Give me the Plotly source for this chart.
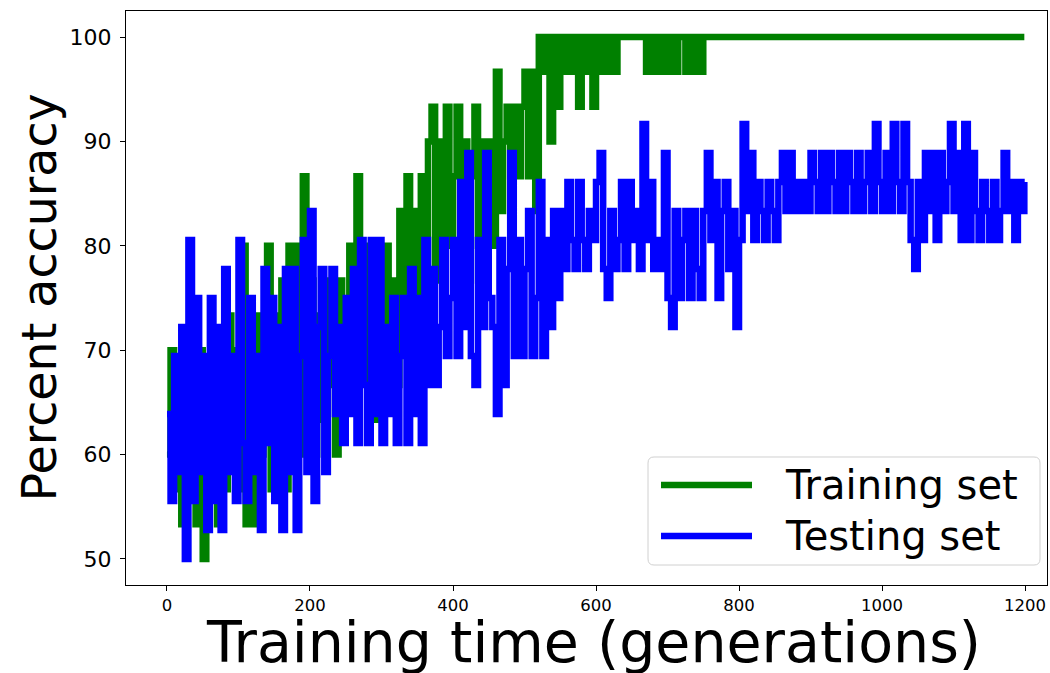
import plotly.graph_objects as go

# ---------------- data ----------------
train_gen = list(range(0, 755, 5)) + [1199]
train_acc = [
    60, 70, 56.67, 66.67, 53.33, 63.33, 56.67, 66.67, 53.33, 70,
    50, 66.67, 56.67, 70, 53.33, 63.33, 56.67, 73.33, 60, 70,
    56.67, 80, 53.33, 66.67, 53.33, 73.33, 60, 70, 80, 56.67,
    73.33, 60, 76.67, 56.67, 80, 63.33, 80, 60, 86.67, 63.33,
    76.67, 60, 73.33, 63.33, 76.67, 66.67, 70, 60, 76.67, 63.33,
    73.33, 80, 66.67, 86.67, 70, 80, 66.67, 76.67, 63.33, 73.33,
    66.67, 80, 70, 76.67, 66.67, 83.33, 70, 86.67, 73.33, 83.33,
    70, 86.67, 76.67, 90, 93.33, 76.67, 90, 80, 93.33, 80,
    86.67, 93.33, 80, 90, 76.67, 86.67, 93.33, 80, 90, 83.33,
    90, 80, 96.67, 83.33, 90, 93.33, 86.67, 93.33, 86.67, 93.33,
    96.67, 86.67, 96.67, 83.33, 100, 96.67, 100, 90, 100, 93.33,
    100, 96.67, 100, 96.67, 100, 93.33, 100, 96.67, 100, 93.33,
    100, 96.67, 100, 96.67, 100, 96.67, 100, 100, 100, 100,
    100, 100, 100, 100, 96.67, 100, 96.67, 100, 96.67, 100,
    96.67, 100, 96.67, 100, 100, 96.67, 100, 96.67, 100, 96.67,
    100,
    100,
]

test_gen = list(range(0, 1200, 5)) + [1199]
test_acc = [
    63.89, 55.56, 69.44, 58.33, 72.22, 50, 80.56, 55.56, 75, 58.33,
    69.44, 52.78, 75, 55.56, 72.22, 52.78, 77.78, 58.33, 69.44, 55.56,
    80.56, 61.11, 55.56, 75, 58.33, 69.44, 52.78, 77.78, 61.11, 75,
    55.56, 72.22, 52.78, 77.78, 58.33, 77.78, 52.78, 69.44, 80.56, 58.33,
    83.33, 55.56, 72.22, 77.78, 58.33, 69.44, 77.78, 63.89, 72.22, 61.11,
    75, 63.89, 77.78, 61.11, 80.56, 66.67, 61.11, 80.56, 63.89, 80.56,
    61.11, 72.22, 63.89, 75, 61.11, 69.44, 75, 61.11, 77.78, 63.89,
    75, 61.11, 80.56, 66.67, 77.78, 66.67, 72.22, 80.56, 69.44, 75,
    80.56, 69.44, 86.11, 72.22, 88.89, 69.44, 66.67, 80.56, 72.22, 88.89,
    75, 72.22, 63.89, 80.56, 66.67, 77.78, 88.89, 69.44, 80.56, 69.44,
    77.78, 83.33, 69.44, 75, 86.11, 69.44, 80.56, 72.22, 83.33, 75,
    83.33, 77.78, 86.11, 80.56, 77.78, 86.11, 80.56, 77.78, 83.33, 80.56,
    86.11, 88.89, 77.78, 75, 83.33, 77.78, 80.56, 86.11, 77.78, 86.11,
    80.56, 83.33, 77.78, 91.67, 80.56, 86.11, 77.78, 80.56, 77.78, 88.89,
    75, 72.22, 83.33, 75, 80.56, 83.33, 75, 83.33, 77.78, 75,
    83.33, 88.89, 80.56, 86.11, 75, 83.33, 86.11, 77.78, 83.33, 72.22,
    80.56, 91.67, 83.33, 88.89, 80.56, 86.11, 83.33, 80.56, 86.11, 83.33,
    80.56, 86.11, 88.89, 83.33, 88.89, 83.33, 86.11, 83.33, 86.11, 83.33,
    88.89, 86.11, 83.33, 88.89, 83.33, 88.89, 86.11, 83.33, 88.89, 83.33,
    88.89, 86.11, 83.33, 88.89, 83.33, 86.11, 88.89, 83.33, 91.67, 86.11,
    83.33, 88.89, 83.33, 91.67, 86.11, 83.33, 91.67, 86.11, 80.56, 77.78,
    86.11, 80.56, 88.89, 83.33, 88.89, 80.56, 88.89, 83.33, 86.11, 91.67,
    83.33, 88.89, 80.56, 91.67, 80.56, 88.89, 83.33, 80.56, 86.11, 83.33,
    80.56, 86.11, 80.56, 83.33, 88.89, 83.33, 86.11, 80.56, 86.11, 83.33,
    86.11,
]

x_ticks = [0, 200, 400, 600, 800, 1000, 1200]
y_ticks = [50, 60, 70, 80, 90, 100]
series_names = ["Training set", "Testing set"]
series_colors = ["green", "blue"]
x_title = "Training time (generations)"
y_title = "Percent accuracy"

FONT = "DejaVu Sans"
LW = 6.5

fig = go.Figure()
for gx, gy, name, col in [(train_gen, train_acc, series_names[0], series_colors[0]),
                          (test_gen, test_acc, series_names[1], series_colors[1])]:
    fig.add_trace(go.Scatter(x=gx, y=gy, mode="lines", name=name,
                             line=dict(color=col, width=LW, shape="hv", simplify=False),
                             showlegend=False, hoverinfo="skip"))

axis_common = dict(showgrid=False, zeroline=False, showline=True, mirror=True,
                   linecolor="black", linewidth=1, ticks="outside", ticklen=5,
                   tickcolor="black", tickwidth=1)

fig.update_layout(
    width=1050, height=673,
    margin=dict(l=126, r=3, t=11, b=88),
    paper_bgcolor="white", plot_bgcolor="white",
    font=dict(family=FONT, color="black"),
    xaxis=dict(range=[-57.3, 1230.7], tickvals=x_ticks,
               tickfont=dict(size=16.5, family=FONT, color="black"), **axis_common),
    yaxis=dict(range=[47.5, 102.5], tickvals=y_ticks, ticklabelstandoff=4,
               tickfont=dict(size=22, family=FONT, color="black"), **axis_common),
)

# axis titles
fig.add_annotation(text=x_title, xref="paper", yref="paper", x=0.508, y=-0.099,
                   xanchor="center", yanchor="middle", showarrow=False,
                   font=dict(size=57, family=FONT, color="black"))
fig.add_annotation(text=y_title, xref="paper", yref="paper", x=-0.0934, y=0.5009,
                   xanchor="center", yanchor="middle", showarrow=False, textangle=-90,
                   font=dict(size=47.5, family=FONT, color="black"))

# legend (matplotlib-style box)
x0, x1, y0, y1 = 0.5668, 0.9924, 0.0348, 0.2230
rx, ry = 0.0065, 0.0105
path = (f"M{x0+rx},{y0} L{x1-rx},{y0} Q{x1},{y0} {x1},{y0+ry} "
        f"L{x1},{y1-ry} Q{x1},{y1} {x1-rx},{y1} L{x0+rx},{y1} Q{x0},{y1} {x0},{y1-ry} "
        f"L{x0},{y0+ry} Q{x0},{y0} {x0+rx},{y0} Z")
fig.add_shape(type="path", path=path, xref="paper", yref="paper",
              line=dict(color="#d0d0d0", width=1), fillcolor="rgba(255,255,255,0.8)")
leg_y = [0.1742, 0.0854]
for i in range(2):
    fig.add_shape(type="line", xref="paper", yref="paper", x0=0.5809, x1=0.6797,
                  y0=leg_y[i], y1=leg_y[i], line=dict(color=series_colors[i], width=LW))
    fig.add_annotation(text=series_names[i], xref="paper", yref="paper", x=0.7134,
                       y=leg_y[i], xanchor="left", yanchor="middle", showarrow=False,
                       font=dict(size=40, family=FONT, color="black"))

fig.write_html("out.html", config={"displayModeBar": False},
               post_script="document.body.style.margin='0px';")
